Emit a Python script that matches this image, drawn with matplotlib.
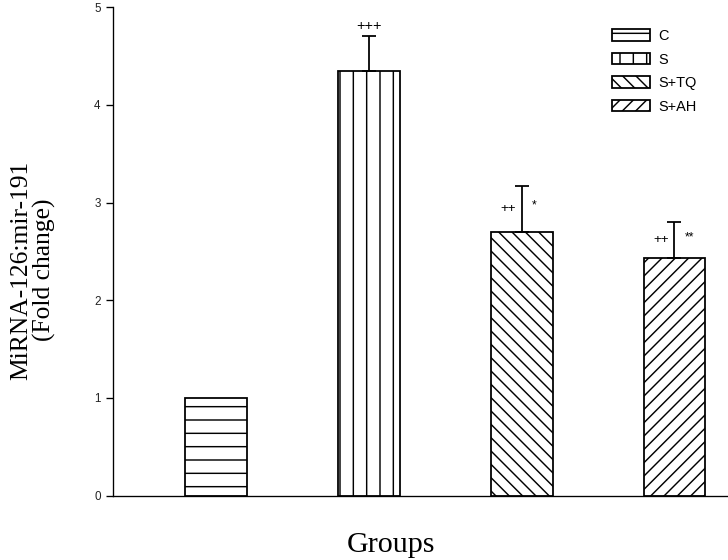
import matplotlib
matplotlib.use('Agg')
import matplotlib.pyplot as plt
import numpy as np

# values
groups = ["C", "S", "S+TQ", "S+AH"]
means = [1.0, 4.35, 2.70, 2.43]
errs = [0.0, 0.36, 0.47, 0.37]
hatches = ['-', '|', '\\\\', '//']
marks_left = ["", "+++", "++", "++"]
marks_right = ["", "", "*", "**"]

matplotlib.rcParams['hatch.linewidth'] = 1.3
matplotlib.rcParams['font.family'] = 'Liberation Sans'

dpi = 80
fig = plt.figure(figsize=(728 / dpi, 560 / dpi), dpi=dpi)
ax = fig.add_axes([0.155, 0.115, 0.845, 0.872])

x = np.arange(1, len(groups) + 1)
for i in range(len(groups)):
    ax.bar(x[i], means[i], width=0.405, color='white', edgecolor='black',
           linewidth=1.6, hatch=hatches[i], label=groups[i], zorder=2)
    if errs[i] > 0:
        ax.errorbar(x[i], means[i], yerr=[[0], [errs[i]]], fmt='none',
                    ecolor='black', elinewidth=1.6, capsize=6, capthick=1.6,
                    zorder=3)

# significance marks
for i in range(len(groups)):
    top = means[i] + errs[i]
    if marks_left[i] and not marks_right[i]:
        ax.text(x[i], top + 0.03, marks_left[i], ha='center', va='bottom',
                fontsize=13)
    else:
        if marks_left[i]:
            ax.text(x[i] - 0.035, means[i] + errs[i] * 0.5, marks_left[i],
                    ha='right', va='center', fontsize=12)
        if marks_right[i]:
            ax.text(x[i] + 0.07, means[i] + errs[i] * 0.58, marks_right[i],
                    ha='left', va='center', fontsize=11)

ax.set_xlim(0.327, 4.35)
ax.set_ylim(0, 5)
ax.set_yticks([0, 1, 2, 3, 4, 5])
ax.set_xticks([])
ax.spines['top'].set_visible(False)
ax.spines['right'].set_visible(False)
ax.spines['left'].set_linewidth(1.2)
ax.spines['bottom'].set_linewidth(1.2)
ax.tick_params(axis='y', direction='out', length=6, width=1.2, labelsize=10.5,
               pad=5, labelcolor='#222222')

ax.set_ylabel("MiRNA-126:mir-191\n(Fold change)", fontsize=23,
              family='Liberation Serif', linespacing=1.0)
ax.yaxis.set_label_coords(-0.093, 0.462)
ax.set_xlabel("Groups", fontsize=27, family='Liberation Serif')
ax.xaxis.set_label_coords(0.452, -0.074)

leg = ax.legend(loc='upper left', bbox_to_anchor=(612 / 728, 1 - 29 / 560),
                bbox_transform=fig.transFigure, frameon=False, borderpad=0,
                borderaxespad=0, fontsize=13, handlelength=2.65,
                handleheight=0.83, labelspacing=0.66, handletextpad=0.55)

plt.savefig('out.png', dpi=dpi)
